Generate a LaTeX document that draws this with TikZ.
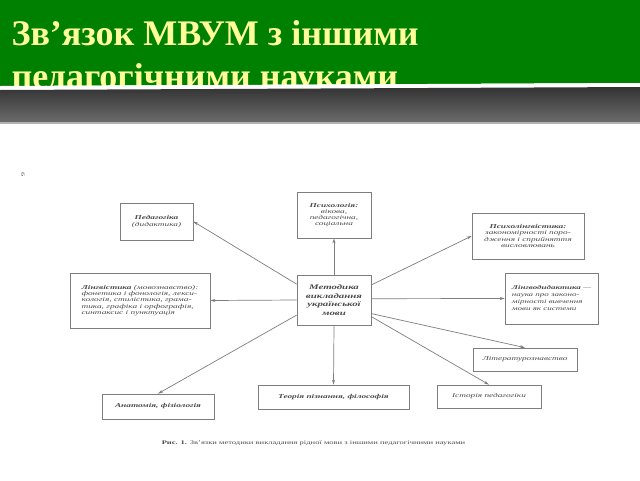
\documentclass[tikz,border=0pt]{standalone}
\usepackage{fontspec}
\setmainfont{Liberation Serif}
\newfontfamily\scanfont[FakeStretch=1.55]{Liberation Serif}
\usetikzlibrary{arrows.meta}
\definecolor{slidegreen}{HTML}{008000}
\definecolor{titleyellow}{HTML}{FFFF99}
\definecolor{scanink}{HTML}{4A4A4A}
\definecolor{scanline}{HTML}{7E7E7E}
\newcommand*{\boxtext}{\scanfont\itshape\fontsize{6}{6.3}\selectfont}
\newcommand*{\titletext}{\fontsize{36}{40}\selectfont\bfseries}

\begin{document}
\begin{tikzpicture}[x=1pt, y=-1pt, font=\boxtext,
    box/.style={draw=scanline, line width=0.7pt, text=scanink, inner sep=0pt, align=center},
    link/.style={draw=scanline, line width=0.7pt, -{Stealth[length=5pt,width=3pt]}}]
    \useasboundingbox (0,0) rectangle (640,480);
    \fill [white] (0,0) rectangle (640,480);
        % slide title
        \fill [slidegreen] (0,0) -- (640,0) -- (640,83) -- (0,86) -- cycle;
        \node [anchor=base west, text=titleyellow, font=\titletext] (title) at (8,45) {Зв’язок МВУМ з іншими};
        \node [anchor=base west, text=titleyellow, font=\titletext] (subtitle) at (8,88) {педагогічними науками};
        \fill [white] (0,86) -- (640,83) -- (640,87) -- (0,90) -- cycle;
        \shade [top color=black!80, bottom color=black!58] (0,90) -- (640,87) -- (640,122) -- (0,122) -- cycle;
        \fill [black!30] (0,122) rectangle (640,124);
        % scanned scheme
        \node [rotate=90, text=scanink, font=\scanfont\fontsize{5}{5}\selectfont] (pagenum) at (23,175) {9};
        \node [box, minimum width=74pt, minimum height=50pt, font=\scanfont\itshape\bfseries\fontsize{7}{8.6}\selectfont] (met) at (334,300) {Методика\\викладання\\української\\мови};
        \node [box, minimum width=73pt, minimum height=37pt] (ped) at (156.5,221.5) {\textbf{Педагогіка}\\(дидактика)};
        \node [box, minimum width=74pt, minimum height=46pt] (psy) at (334,215) {\textbf{Психологія:}\\вікова,\\педагогічна,\\соціальна};
        \node [box, minimum width=112pt, minimum height=46pt] (psyling) at (528,236) {\textbf{Психолінгвістика:}\\закономірності поро-\\дження і сприйняття\\висловлювань};
        \node [box, minimum width=140pt, minimum height=55pt, align=left] (ling) at (140,300.5) {\textbf{Лінгвістика} (мовознавство):\\фонетика і фонологія, лекси-\\кологія, стилістика, грама-\\тика, графіка і орфографія,\\синтаксис і пунктуація};
        \node [box, minimum width=93pt, minimum height=51pt, align=left, font=\scanfont\itshape\fontsize{5.8}{7}\selectfont] (lingdid) at (551.5,298.5) {\textbf{Лінгводидактика} —\\наука про законо-\\мірності вивчення\\мови як системи};
        \node [box, minimum width=112pt, minimum height=25pt, font=\scanfont\itshape\bfseries\fontsize{6}{6.3}\selectfont] (anat) at (158,406.5) {Анатомія, фізіологія};
        \node [box, minimum width=151pt, minimum height=24pt, font=\scanfont\itshape\bfseries\fontsize{6}{6.3}\selectfont] (teor) at (333.5,397) {Теорія пізнання, філософія};
        \node [box, minimum width=104pt, minimum height=23pt] (lit) at (525,359.5) {Літературознавство};
        \node [box, minimum width=104pt, minimum height=23pt] (ist) at (489,396.5) {Історія педагогіки};
        \node [text=scanink, font=\scanfont\fontsize{5.5}{6}\selectfont] (caption) at (313.5,443) {\textbf{Рис. 1.} Зв’язки методики викладання рідної мови з іншими педагогічними науками};
        % links
        \draw [link] (met.157) -- (ped.east);
        \draw [link] (met.north) -- (psy.south);
        \draw [link] (met.22) -- (psyling.west);
        \draw [link] (met.west) -- (ling.east);
        \draw [link] (met.2) -- (lingdid.west);
        \draw [link] (met.202) -- (anat.north);
        \draw [link] (met.south) -- (teor.north);
        \draw [link] (met.340) -- (lit.north);
        \draw [link] (met.336) -- (ist.north);
    \end{tikzpicture}
\end{document}
